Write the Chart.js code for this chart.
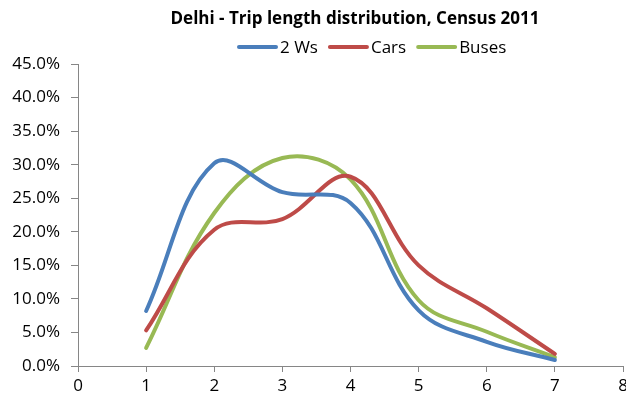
<!DOCTYPE html>
<html>
<head>
<meta charset="utf-8">
<script src="https://cdn.jsdelivr.net/npm/chart.js@4.4.1/dist/chart.umd.min.js"></script>
<style>
  html, body { margin: 0; padding: 0; background: #fff; }
  #wrap { width: 626px; height: 402px; }
</style>
</head>
<body>
<div id="wrap"><canvas id="tripChart" width="626" height="402"></canvas></div>
<script>
// trip length distribution by mode (share of trips, %)
var tripLength = [1, 2, 3, 4, 5, 6, 7];
var twoWheelers = [8.2, 30.2, 25.9, 24.3, 8.3, 3.6, 0.9];
var cars = [5.3, 20.3, 21.9, 28.2, 15.0, 8.6, 1.8];
var buses = [2.7, 22.8, 31.0, 27.8, 9.8, 5.1, 1.3];

var titleText = 'Delhi - Trip length distribution, Census 2011';

function pts(values) {
  return tripLength.map(function (x, i) { return { x: x, y: values[i] }; });
}

// title + legend drawn by hand so they can sit off-centre like the original
var headerPlugin = {
  id: 'header',
  afterDraw: function (chart) {
    var ctx = chart.ctx;
    ctx.save();
    ctx.fillStyle = '#000';
    ctx.font = 'bold 17px "Open Sans"';
    ctx.textAlign = 'center';
    ctx.textBaseline = 'alphabetic';
    ctx.fillText(titleText, 355, 24);

    ctx.font = '17px "Open Sans"';
    ctx.textAlign = 'left';
    var x = 237;
    chart.data.datasets.forEach(function (ds) {
      ctx.strokeStyle = ds.borderColor;
      ctx.lineWidth = 4;
      ctx.lineCap = 'round';
      ctx.beginPath();
      ctx.moveTo(x + 2, 47);
      ctx.lineTo(x + 39, 47);
      ctx.stroke();
      ctx.fillStyle = '#000';
      ctx.fillText(ds.label, x + 43, 53);
      x += 43 + ctx.measureText(ds.label).width + 10;
    });
    ctx.restore();
  }
};

new Chart(document.getElementById('tripChart'), {
  type: 'line',
  data: {
    datasets: [{
      label: '2 Ws',
      data: pts(twoWheelers),
      borderColor: '#4A7EBB',
      backgroundColor: '#4A7EBB'
    }, {
      label: 'Cars',
      data: pts(cars),
      borderColor: '#BE4B48',
      backgroundColor: '#BE4B48'
    }, {
      label: 'Buses',
      data: pts(buses),
      borderColor: '#98B954',
      backgroundColor: '#98B954'
    }]
  },
  options: {
    responsive: false,
    animation: false,
    layout: { padding: { top: 64, right: 3, bottom: 0, left: 0 } },
    elements: {
      line: { borderWidth: 4, tension: 0.38, borderCapStyle: 'round', fill: false },
      point: { radius: 0, hoverRadius: 0 }
    },
    plugins: {
      legend: { display: false },
      title: { display: false },
      tooltip: { enabled: false }
    },
    scales: {
      x: {
        type: 'linear',
        min: 0,
        max: 8,
        ticks: { stepSize: 1, color: '#000', padding: 4, font: { family: 'Open Sans', size: 17 } },
        grid: { drawOnChartArea: false, color: '#868686', tickLength: 6 },
        border: { color: '#868686', width: 1 },
        afterFit: function (s) { s.height = 36; s.paddingLeft = 0; s.paddingRight = 0; }
      },
      y: {
        min: 0,
        max: 45,
        ticks: {
          stepSize: 5,
          color: '#000',
          padding: 11,
          font: { family: 'Open Sans', size: 17 },
          callback: function (v) { return v.toFixed(1) + '%'; }
        },
        grid: { drawOnChartArea: false, color: '#868686', tickLength: 7 },
        border: { color: '#868686', width: 1 },
        afterFit: function (s) { s.width = 78; }
      }
    }
  },
  plugins: [headerPlugin]
});
</script>
</body>
</html>
